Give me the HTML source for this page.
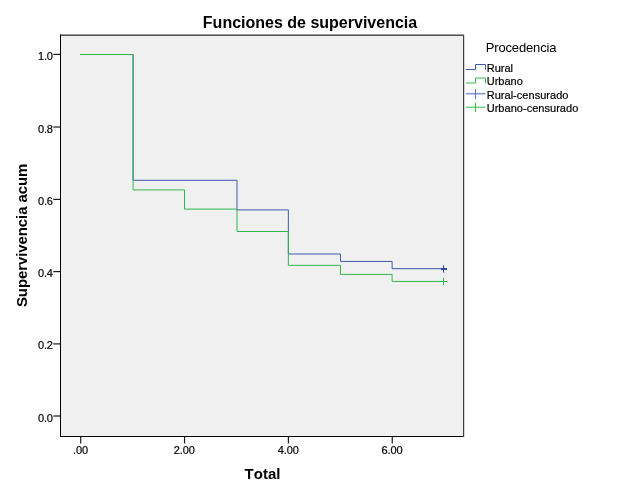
<!DOCTYPE html>
<html lang="es">
<head>
<meta charset="utf-8">
<title>Funciones de supervivencia</title>
<style>
html,body{margin:0;padding:0;background:#fff;}
body{width:620px;height:496px;overflow:hidden;}
svg{display:block;}
text{font-family:"Liberation Sans",Arial,Helvetica,sans-serif;fill:#000;font-kerning:none;}
.t{font-size:11px;stroke:#000;stroke-width:0.2px;}
.k{letter-spacing:-0.1px;}
.b{font-weight:bold;}
</style>
</head>
<body>
<svg width="620" height="496" viewBox="0 0 620 496">
<rect x="0" y="0" width="620" height="496" fill="#ffffff"/>
<!-- plot area -->
<rect x="61" y="35.6" width="402" height="400.4" fill="#f0f0f0"/>
<g stroke="#000" stroke-width="1" fill="none">
<line x1="60.5" x2="60.5" y1="34.3" y2="437"/>
<line x1="60" x2="464" y1="436.5" y2="436.5"/>
</g>
<rect x="463" y="34" width="1" height="403" fill="#404040"/>
<rect x="464" y="35" width="1" height="402" fill="#d4d4d4"/>
<rect x="61" y="34" width="403" height="1" fill="#9a9a9a"/>
<rect x="61" y="35" width="403" height="1" fill="#555555"/>
<!-- ticks -->
<g stroke="#1a1a1a" stroke-width="1.2" fill="none">
<line x1="53.3" x2="60" y1="54.40" y2="54.40"/><line x1="53.3" x2="60" y1="127.00" y2="127.00"/><line x1="53.3" x2="60" y1="199.40" y2="199.40"/><line x1="53.3" x2="60" y1="271.60" y2="271.60"/><line x1="53.3" x2="60" y1="343.90" y2="343.90"/><line x1="53.3" x2="60" y1="416.00" y2="416.00"/>
<line x1="80.70" x2="80.70" y1="437" y2="443.5"/><line x1="184.55" x2="184.55" y1="437" y2="443.5"/><line x1="288.40" x2="288.40" y1="437" y2="443.5"/><line x1="392.25" x2="392.25" y1="437" y2="443.5"/>
</g>
<g class="t k">
<text x="52.9" y="60" text-anchor="end">1.0</text><text x="52.9" y="133" text-anchor="end">0.8</text><text x="52.9" y="205" text-anchor="end">0.6</text><text x="52.9" y="277" text-anchor="end">0.4</text><text x="52.9" y="349" text-anchor="end">0.2</text><text x="52.9" y="422" text-anchor="end">0.0</text>
<text x="80.50" y="454" text-anchor="middle">.00</text><text x="184.35" y="454" text-anchor="middle">2.00</text><text x="288.20" y="454" text-anchor="middle">4.00</text><text x="392.05" y="454" text-anchor="middle">6.00</text>
</g>
<!-- curves -->
<path d="M80.30 54.50H133.10V180.30H237.00V209.90H288.35V254.00H340.50V261.45H392.10V268.70H443.50" stroke="#3e58ac" stroke-width="1" fill="none"/>
<path d="M80.30 54.50H133.10V189.90H184.50V209.10H237.00V231.50H288.35V265.35H340.50V274.40H392.10V281.45H443.50" stroke="#2eb848" stroke-width="1" fill="none"/>
<path d="M440.9 269.00H447.0" stroke="#2f47a2" stroke-width="2" fill="none"/><path d="M443.5 265.30V272.70" stroke="#2f47a2" stroke-width="1" fill="none"/>
<path d="M440.0 281.50H447.0" stroke="#2eb848" stroke-width="1" fill="none"/><path d="M443.5 277.80V285.20" stroke="#2eb848" stroke-width="1" fill="none"/>
<!-- titles -->
<text class="b" x="310" y="27.7" text-anchor="middle" font-size="16">Funciones de supervivencia</text>
<text class="b" x="262.5" y="478.7" text-anchor="middle" font-size="15">Total</text>
<text class="b" transform="translate(27.4 235.4) rotate(-90)" text-anchor="middle" font-size="15" letter-spacing="-0.1">Supervivencia acum</text>
<!-- legend -->
<text x="485.7" y="51.8" font-size="13" letter-spacing="-0.15" fill="#404040">Procedencia</text>
<g class="t">
<text x="486.7" y="71.5">Rural</text>
<text x="486.7" y="85">Urbano</text>
<text x="486.7" y="98.5" letter-spacing="0.03">Rural-censurado</text>
<text x="486.7" y="112" letter-spacing="0.03">Urbano-censurado</text>
</g>
<g fill="none" stroke-width="1">
<path d="M466 69.5H475.5V64.5H485.5V69.8" stroke="#3e58ac"/>
<path d="M466 83H475.5V78H485.5V83.3" stroke="#2eb848"/>
<path d="M466 93.7H485.3" stroke="#8796cf" stroke-width="1.6"/>
<path d="M475.5 89V99" stroke="#5c72bb"/>
<path d="M466 107.2H485.3" stroke="#2eb848"/>
<path d="M475.5 102.9V112" stroke="#2eb848"/>
</g>
</svg>
</body>
</html>
